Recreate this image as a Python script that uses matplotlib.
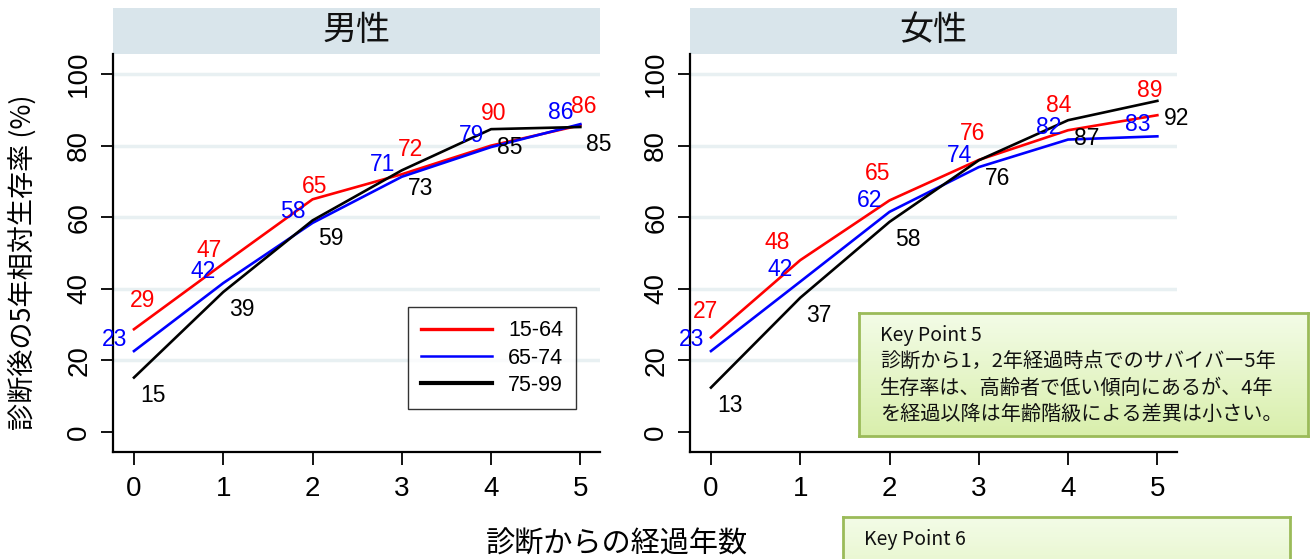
import matplotlib
matplotlib.use("Agg")
import matplotlib.pyplot as plt
import numpy as np
from matplotlib.patches import Rectangle
from matplotlib.colors import LinearSegmentedColormap

plt.rcParams['font.family'] = ['Noto Sans CJK JP', 'DejaVu Sans']

NUM_FONT = ['Liberation Sans Narrow', 'Liberation Sans', 'DejaVu Sans']

years = [0, 1, 2, 3, 4, 5]
age_groups = ["15-64", "65-74", "75-99"]
panel_titles = ["男性", "女性"]

# line values
male_1564 = [28.7, 47, 65, 72, 80, 85.7]
male_6574 = [22.6, 41.6, 58.4, 71.3, 79.6, 86]
male_7599 = [15.2, 39.1, 59.1, 73.1, 84.6, 85.2]
female_1564 = [26.4, 48, 64.7, 76, 84.3, 88.5]
female_6574 = [22.6, 42, 61.5, 74, 81.7, 82.6]
female_7599 = [12.4, 37.5, 58.7, 75.9, 87.1, 92.5]

# numbers printed next to the points
male_1564_lab = [29, 47, 65, 72, 90, 86]
male_6574_lab = [23, 42, 58, 71, 79, 86]
male_7599_lab = [15, 39, 59, 73, 85, 85]
female_1564_lab = [27, 48, 65, 76, 84, 89]
female_6574_lab = [23, 42, 62, 74, 82, 83]
female_7599_lab = [13, 37, 58, 76, 87, 92]

kp5_lines = ["Key Point 5",
             "診断から1，2年経過時点でのサバイバー5年",
             "生存率は、高齢者で低い傾向にあるが、4年",
             "を経過以降は年齢階級による差異は小さい。"]
kp6_lines = ["Key Point 6"]

colors = ["#ff0000", "#0000ff", "#000000"]

# label offsets (dx, dy) from each point, in data units
red_off_m = [(0.10, 7.9), (-0.16, 3.8), (0.02, 3.7), (0.10, 7.0), (0.03, 9.0), (0.04, 5.3)]
red_off_f = [(-0.06, 7.2), (-0.26, 4.9), (-0.13, 7.4), (-0.07, 7.4), (-0.11, 7.0), (-0.09, 6.9)]
blue_off = [(-0.22, 3.3)] * 6
black_off = [(0.21, -5.0)] * 6

panels = [
    (panel_titles[0], [male_1564, male_6574, male_7599],
     [male_1564_lab, male_6574_lab, male_7599_lab], [red_off_m, blue_off, black_off]),
    (panel_titles[1], [female_1564, female_6574, female_7599],
     [female_1564_lab, female_6574_lab, female_7599_lab], [red_off_f, blue_off, black_off]),
]

W, H = 1312, 559
fig = plt.figure(figsize=(W / 100, H / 100), dpi=100)

ax_left = [113, 690]
ax_w, ax_bottom, ax_top = 487, 452, 54
title_h = 46

for i, (title, series, labels, offsets) in enumerate(panels):
    ax = fig.add_axes([ax_left[i] / W, 1 - ax_bottom / H, ax_w / W, (ax_bottom - ax_top) / H])
    ax.set_xlim(-0.235, 5.22)
    ax.set_ylim(-5.6, 105.6)

    for g in [20, 40, 60, 80, 100]:
        ax.axhline(g, color="#e8f0f2", lw=2.5, zorder=0)

    for k in range(3):
        ax.plot(years, series[k], color=colors[k], lw=1.9, label=age_groups[k], zorder=3)
        for x, y, lab, (dx, dy) in zip(years, series[k], labels[k], offsets[k]):
            ax.text(x + dx, y + dy, str(lab), color=colors[k], fontsize=16.5,
                    family=NUM_FONT, ha="center", va="center", zorder=4)

    for s in ["top", "right"]:
        ax.spines[s].set_visible(False)
    for s in ["left", "bottom"]:
        ax.spines[s].set_linewidth(1.6)

    ax.set_xticks(years)
    ax.set_yticks([0, 20, 40, 60, 80, 100])
    ax.tick_params(axis="both", direction="out", length=9, width=1.3, labelsize=20)
    ax.tick_params(axis="x", pad=8)
    ax.tick_params(axis="y", pad=6)
    for t in ax.get_xticklabels():
        t.set_family(NUM_FONT)
    for t in ax.get_yticklabels():
        t.set_family(NUM_FONT)
        t.set_rotation(90)
        t.set_va("center")

    # panel title strip
    th = title_h / (ax_bottom - ax_top)
    ax.add_patch(Rectangle((0, 1), 1, th, transform=ax.transAxes, facecolor="#d9e5eb",
                           edgecolor="none", clip_on=False))
    ax.text(0.5, 1 + th / 2, title, transform=ax.transAxes, ha="center", va="center",
            fontsize=24.5, color="#111111")

    if i == 0:
        leg = ax.legend(loc="upper left", bbox_to_anchor=(0.606, 0.364),
                        handlelength=3.3, fancybox=False, edgecolor="black",
                        borderpad=0.6, labelspacing=0.3, handletextpad=0.75,
                        borderaxespad=0,
                        prop={"family": ["Liberation Sans", "DejaVu Sans"], "size": 15.5})
        leg.get_frame().set_linewidth(1.0)
        leg.get_lines()[0].set_linewidth(2.4)
        leg.get_lines()[1].set_linewidth(1.8)
        leg.get_lines()[2].set_linewidth(3.0)

fig.text(23 / W, 1 - 262 / H, "診断後の5年相対生存率 (%)", rotation=90, ha="center",
         va="center", fontsize=19.5)
fig.text(617 / W, 1 - 545 / H, "診断からの経過年数", ha="center", va="center", fontsize=21)

# key point boxes
green = LinearSegmentedColormap.from_list("kp", ["#d9efac", "#f3fce7"])
grad = np.linspace(0, 1, 64).reshape(-1, 1)

def key_box(x0, y0, x1, y1, lines, first_y, step):
    kax = fig.add_axes([x0 / W, 1 - y1 / H, (x1 - x0) / W, (y1 - y0) / H])
    kax.imshow(grad, aspect="auto", cmap=green, extent=[x0, x1, y1, y0], origin="lower")
    kax.set_xlim(x0, x1)
    kax.set_ylim(y1, y0)
    kax.set_xticks([])
    kax.set_yticks([])
    for s in kax.spines.values():
        s.set_color("#9bbb59")
        s.set_linewidth(2)
    for j, line in enumerate(lines):
        kax.text(x0 + 21, first_y + j * step, line, ha="left", va="center",
                 fontsize=14 if j == 0 else 14.5, color="#111111")
    return kax

key_box(859, 313, 1308, 436, kp5_lines, 335, 26.5)
key_box(843, 517, 1290, 640, kp6_lines, 540, 26.5)

fig.savefig("out.png", dpi=100)
